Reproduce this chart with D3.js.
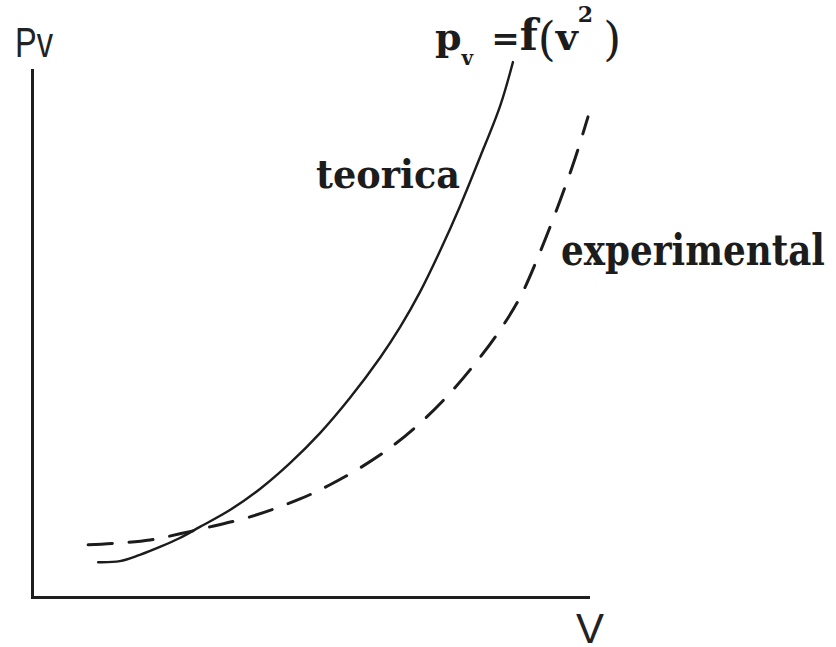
<!DOCTYPE html>
<html>
<head>
<meta charset="utf-8">
<script src="https://cdn.jsdelivr.net/npm/d3@7"></script>
<style>
  html, body { margin: 0; padding: 0; background: #fff; }
  svg { display: block; }
  .serif { font-family: "DejaVu Serif", serif; font-weight: bold; fill: #1c1c1c; }
  .sans { font-family: "Liberation Sans", Arial, sans-serif; fill: #222; }
</style>
</head>
<body>
<svg id="chart" width="836" height="647"></svg>
<script>
// Theoretical vapour pressure curve (solid): velocity vs pressure, arbitrary units
const theoryV  = [1.19, 1.58, 1.94, 2.30, 2.66, 3.02, 3.56, 4.10, 4.64, 5.18, 5.72, 6.26, 6.62, 6.98, 7.34, 7.70, 8.06, 8.42, 8.65];
const theoryP  = [0.66, 0.68, 0.80, 0.95, 1.12, 1.33, 1.65, 2.05, 2.54, 3.11, 3.78, 4.54, 5.12, 5.79, 6.57, 7.42, 8.35, 9.32, 10.15];

// Experimental curve (dashed)
const experV   = [1.01, 1.49, 2.12, 2.66, 3.20, 3.92, 4.82, 5.36, 5.90, 6.44, 6.98, 7.52, 8.06, 8.42, 8.78, 9.14, 9.50, 9.77, 10.0];
const experP   = [0.99, 1.02, 1.08, 1.20, 1.33, 1.52, 1.86, 2.13, 2.45, 2.83, 3.30, 3.87, 4.55, 5.07, 5.69, 6.55, 7.53, 8.33, 9.11];

// Labels
const seriesLabels = ["teorica", "experimental"];
const axisLabels = { y: "Pv", x: "V" };

const svg = d3.select("#chart");

const x = d3.scaleLinear().domain([0, 10]).range([32, 588]);
const y = d3.scaleLinear().domain([0, 10]).range([597, 70]);

// Axes: plain lines, no ticks
svg.append("g")
  .attr("transform", `translate(0,${y(0)})`)
  .call(d3.axisBottom(x).tickValues([]).tickSizeOuter(0))
  .call(g => g.select(".domain").attr("stroke", "#1e1e1e").attr("stroke-width", 3).attr("stroke-linecap", "square"));

svg.append("g")
  .attr("transform", `translate(${x(0)},0)`)
  .call(d3.axisLeft(y).tickValues([]).tickSizeOuter(0))
  .call(g => g.select(".domain").attr("stroke", "#1e1e1e").attr("stroke-width", 3).attr("stroke-linecap", "square"));

const line = d3.line()
  .x(d => x(d[0]))
  .y(d => y(d[1]))
  .curve(d3.curveCatmullRom.alpha(0.5));

const theory = theoryV.map((v, i) => [v, theoryP[i]]);
const exper = experV.map((v, i) => [v, experP[i]]);

svg.append("path")
  .datum(theory)
  .attr("d", line)
  .attr("fill", "none")
  .attr("stroke", "#1c1c1c")
  .attr("stroke-width", 2.4)
  .attr("stroke-linecap", "round");

svg.append("path")
  .datum(exper)
  .attr("d", line)
  .attr("fill", "none")
  .attr("stroke", "#1c1c1c")
  .attr("stroke-width", 3)
  .attr("stroke-dasharray", "24 17")
  .attr("stroke-linecap", "round");

// Text squeezed horizontally to a target width (the type is condensed)
function fitted(cls, label, left, baseline, size, width) {
  const t = svg.append("text").attr("class", cls)
    .attr("font-size", size)
    .text(label);
  const natural = t.node().getComputedTextLength();
  const k = width / natural;
  t.attr("transform", `translate(${left},${baseline}) scale(${k},1)`);
  return t;
}

// Axis titles
fitted("sans", axisLabels.y, 15, 57, 43, 38);
svg.append("text").attr("class", "sans")
  .attr("x", 576).attr("y", 643)
  .attr("font-size", 42)
  .text(axisLabels.x);

// Series labels
fitted("serif", seriesLabels[0], 316, 188, 39, 144);
fitted("serif", seriesLabels[1], 561, 265, 42, 264);

// Formula  p_v = f(v^2), laid out left to right
const f = svg.append("text").attr("class", "serif").attr("x", 435).attr("y", 50);
f.append("tspan").attr("y", 50).attr("font-size", 38).text("p");
f.append("tspan").attr("y", 65).attr("font-size", 20).text("v");
f.append("tspan").attr("dx", 18).attr("y", 50).attr("font-size", 34).text("=");
f.append("tspan").attr("y", 50).attr("font-size", 42).text("f");
f.append("tspan").attr("y", 55).attr("font-size", 46).style("font-weight", "normal").text("(");
f.append("tspan").attr("y", 50).attr("font-size", 38).text("v");
f.append("tspan").attr("y", 22).attr("font-size", 22).text("2");
f.append("tspan").attr("dx", 10).attr("y", 55).attr("font-size", 46).style("font-weight", "normal").text(")");
</script>
</body>
</html>
